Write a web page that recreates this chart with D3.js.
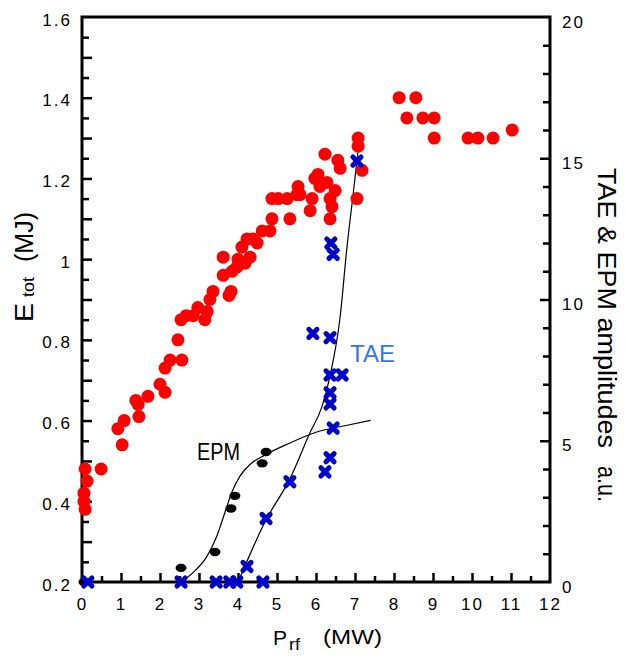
<!DOCTYPE html>
<html>
<head>
<meta charset="utf-8">
<script src="https://cdn.jsdelivr.net/npm/d3@7"></script>
<style>
	body { margin: 0; background: #fff; }
	svg { display: block; font-family: "Liberation Sans", Arial, sans-serif; }
	.tick text { font-size: 17px; letter-spacing: 2px; fill: #000; }
	.tick line { stroke: #000; stroke-width: 2.5; }
</style>
</head>
<body>
<svg id="chart" width="626" height="659"></svg>
<script>
// stored energy vs rf power (left axis)
var etotP = [0.08, 0.13, 0.05, 0.05, 0.08, 0.49, 1.03, 0.92, 1.08, 1.46, 1.44, 1.38, 1.69, 2.00, 2.13,
	2.13, 2.26, 2.56, 2.46, 2.54, 2.67, 2.85, 2.97, 3.21, 3.15, 3.28, 3.36, 3.77, 3.82, 3.62, 3.62, 3.85,
	3.97, 4.00, 4.10, 4.18, 4.23, 4.38, 4.31, 4.49, 4.62, 4.82, 4.87, 4.87, 5.03, 5.26, 5.33, 5.54, 5.51,
	5.59, 5.90, 5.85, 5.97, 6.10, 6.28, 6.05, 6.36, 6.41, 6.36, 6.49, 6.23, 6.56, 6.62, 7.18, 7.05, 7.08,
	7.08, 8.13, 8.56, 8.33, 8.74, 9.03, 9.03, 9.90, 10.15, 10.54, 11.03];
var etotE = [0.48, 0.45, 0.42, 0.40, 0.38, 0.48, 0.54, 0.58, 0.60, 0.61, 0.64, 0.65, 0.66, 0.69, 0.67,
	0.73, 0.75, 0.75, 0.80, 0.85, 0.86, 0.86, 0.88, 0.87, 0.85, 0.90, 0.92, 0.91, 0.92, 0.96, 1.005, 0.97,
	0.98, 1.00, 1.03, 0.99, 1.05, 1.05, 1.005, 1.04, 1.07, 1.07, 1.10, 1.15, 1.15, 1.15, 1.10, 1.18, 1.16,
	1.16, 1.15, 1.12, 1.20, 1.18, 1.19, 1.21, 1.15, 1.13, 1.10, 1.17, 1.26, 1.245, 1.225, 1.22, 1.15, 1.30,
	1.28, 1.40, 1.40, 1.35, 1.35, 1.35, 1.30, 1.30, 1.30, 1.30, 1.32];

// mode amplitudes (right axis)
var taeP = [0.15, 2.54, 3.44, 3.79, 3.97, 4.64, 4.23, 4.72, 5.33, 6.23, 6.36, 6.44, 6.36, 6.36, 6.36,
	6.67, 5.92, 6.36, 6.38, 6.44, 7.05];
var taeA = [0, 0, 0, 0, 0, 0, 0.55, 2.25, 3.55, 3.9, 4.4, 5.45, 6.3, 6.7, 7.33,
	7.33, 8.8, 8.65, 12.0, 11.6, 14.9];
var epmP = [0.05, 2.54, 3.41, 3.82, 3.92, 4.62, 4.72];
var epmA = [0, 0.5, 1.06, 2.6, 3.05, 4.2, 4.6];

// hand-drawn trend lines
var epmFitP = [2.55, 2.9, 3.2, 3.45, 3.65, 3.85, 4.05, 4.3, 4.7, 5.3, 6.0, 6.8, 7.4];
var epmFitA = [0.0, 0.4, 0.9, 1.6, 2.4, 3.2, 3.75, 4.15, 4.5, 4.9, 5.3, 5.55, 5.72];
var taeFitP = [4.0, 4.72, 5.33, 5.85, 6.15, 6.36, 6.62, 6.79, 6.95, 7.11];
var taeFitA = [0, 2.2, 3.65, 5.3, 6.2, 7.3, 9.4, 11.8, 13.7, 15.65];

var xTicks = d3.range(0, 13);
var eTicks = [0.2, 0.4, 0.6, 0.8, 1, 1.2, 1.4, 1.6];
var aTicks = [0, 5, 10, 15, 20];

var margin = {top: 17, right: 76, bottom: 77, left: 82},
		W = 626, H = 659;
var svg = d3.select("#chart");
svg.append("rect").attr("width", W).attr("height", H).attr("fill", "#fff");

var x = d3.scaleLinear().domain([0, 12]).range([margin.left, W - margin.right]),
		yE = d3.scaleLinear().domain([0.2, 1.6]).range([H - margin.bottom, margin.top]),
		yA = d3.scaleLinear().domain([0, 20]).range([H - margin.bottom, margin.top]);

function tickAxis(axis, vals, size) {
	return axis.tickValues(vals).tickSize(size).tickFormat("");
}
function clean(g) {
	g.select(".domain").remove();
	return g;
}

var bottomY = H - margin.bottom, rightX = W - margin.right;

// inward ticks
var xMinor = d3.range(0.5, 12, 1), xMajor = d3.range(1, 12);
svg.append("g").attr("transform", "translate(0," + bottomY + ")")
	.call(tickAxis(d3.axisTop(x), xMinor, 6)).call(clean);
svg.append("g").attr("transform", "translate(0," + bottomY + ")")
	.call(tickAxis(d3.axisTop(x), xMajor, 9)).call(clean);

var eMinor = d3.range(0.25, 1.6, 0.1), eMajor = d3.range(0.3, 1.59, 0.1);
svg.append("g").attr("transform", "translate(" + margin.left + ",0)")
	.call(tickAxis(d3.axisRight(yE), eMinor, 7)).call(clean);
svg.append("g").attr("transform", "translate(" + margin.left + ",0)")
	.call(tickAxis(d3.axisRight(yE), eMajor, 10)).call(clean);

var aMinor = d3.range(1, 20).filter(function(v) { return v % 5; });
svg.append("g").attr("transform", "translate(" + rightX + ",0)")
	.call(tickAxis(d3.axisLeft(yA), aMinor, 7)).call(clean);
svg.append("g").attr("transform", "translate(" + rightX + ",0)")
	.call(tickAxis(d3.axisLeft(yA), [5, 10, 15], 10)).call(clean);

// tick labels
svg.append("g").attr("transform", "translate(" + margin.left + ",0)")
	.call(d3.axisLeft(yE).tickValues(eTicks).tickFormat(String).tickSize(0).tickPadding(10)).call(clean)
	.selectAll("text").attr("dy", "0.47em");
svg.append("g").attr("transform", "translate(0," + bottomY + ")")
	.call(d3.axisBottom(x).tickValues(xTicks).tickFormat(String).tickSize(0).tickPadding(16)).call(clean);
svg.append("g").attr("transform", "translate(" + rightX + ",0)")
	.call(d3.axisRight(yA).tickValues(aTicks).tickFormat(String).tickSize(0).tickPadding(12)).call(clean)
	.selectAll("text").attr("dy", "0.59em");
svg.selectAll(".tick text").attr("font-family", null).attr("font-size", null);

// frame
svg.append("rect")
	.attr("x", margin.left).attr("y", margin.top)
	.attr("width", rightX - margin.left).attr("height", bottomY - margin.top)
	.attr("fill", "none").attr("stroke", "#000").attr("stroke-width", 3);

// trend lines
var fitLine = d3.line().curve(d3.curveMonotoneX)
	.x(function(d) { return x(d[0]); })
	.y(function(d) { return yA(d[1]); });
[[epmFitP, epmFitA], [taeFitP, taeFitA]].forEach(function(f) {
	svg.append("path")
		.datum(d3.zip(f[0], f[1]))
		.attr("d", fitLine)
		.attr("fill", "none").attr("stroke", "#000").attr("stroke-width", 1.2);
});

// points
svg.append("g").selectAll("circle")
	.data(d3.zip(etotP, etotE))
	.join("circle")
		.attr("cx", function(d) { return x(d[0]); })
		.attr("cy", function(d) { return yE(d[1]); })
		.attr("r", 6.5)
		.attr("fill", "#ff0000");

svg.append("g").selectAll("ellipse")
	.data(d3.zip(epmP, epmA))
	.join("ellipse")
		.attr("cx", function(d) { return x(d[0]); })
		.attr("cy", function(d) { return yA(d[1]); })
		.attr("rx", 5.5).attr("ry", 4.2)
		.attr("fill", "#000");

var xSym = d3.symbol(d3.symbolX).size(45);
svg.append("g").selectAll("path")
	.data(d3.zip(taeP, taeA))
	.join("path")
		.attr("transform", function(d) { return "translate(" + x(d[0]) + "," + yA(d[1]) + ")"; })
		.attr("d", xSym)
		.attr("fill", "none")
		.attr("stroke", "#0000cc")
		.attr("stroke-width", 5)
		.attr("stroke-linecap", "round");

// labels
function stretchText(parent, str, px, py, size, len) {
	return parent.append("text")
		.attr("x", px).attr("y", py)
		.attr("font-size", size)
		.attr("textLength", len)
		.attr("lengthAdjust", "spacingAndGlyphs")
		.text(str);
}

stretchText(svg, "EPM", 197, 460, 23, 43);
stretchText(svg, "TAE", 350, 362, 23, 45).attr("fill", "#3377f2");

var lt = svg.append("g").attr("transform", "translate(33,322) rotate(-90)");
stretchText(lt, "E", 0, 0, 25, 19);
stretchText(lt, "tot", 25, 1, 16, 20);
stretchText(lt, "(MJ)", 60, 0, 25, 50);

stretchText(svg, "P", 273, 645, 21, 14);
stretchText(svg, "rf", 289, 650, 16, 11);
stretchText(svg, "(MW)", 323, 644, 21, 59);

var rt = svg.append("g").attr("transform", "translate(598,168) rotate(90)");
stretchText(rt, "TAE & EPM amplitudes", 0, 0, 25, 280);
stretchText(rt, "a.u.", 298, 0, 25, 36);
</script>
</body>
</html>
